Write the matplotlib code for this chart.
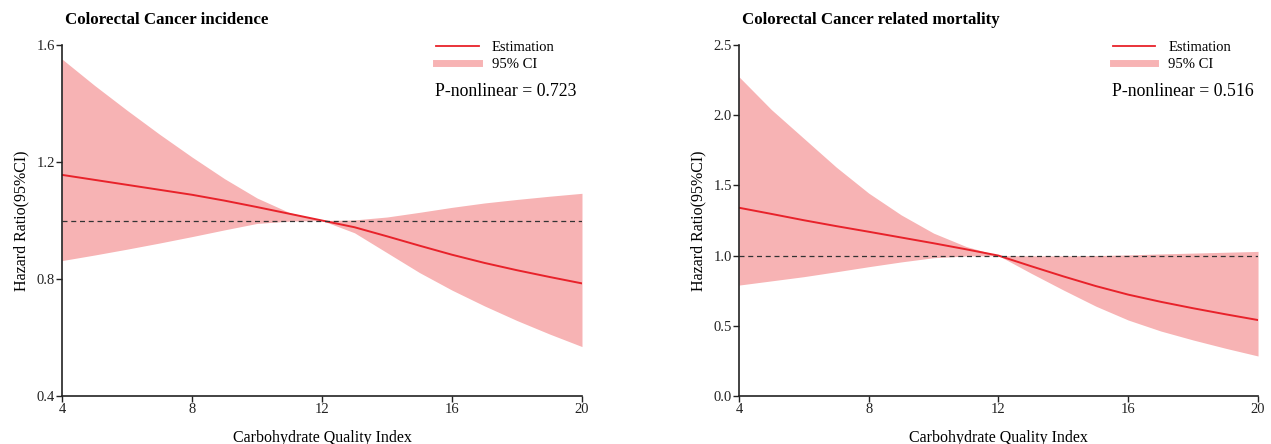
import matplotlib
matplotlib.use("Agg")
import matplotlib.pyplot as plt
from matplotlib.lines import Line2D

plt.rcParams['font.family'] = ['Liberation Serif', 'DejaVu Serif']

# Carbohydrate Quality Index
cqi = [4, 5, 6, 7, 8, 9, 10, 11, 12, 13, 14, 15, 16, 17, 18, 19, 20]

# incidence
inc_est = [1.156, 1.139, 1.122, 1.105, 1.088, 1.068, 1.046, 1.023, 1.000,
           0.977, 0.946, 0.914, 0.883, 0.855, 0.830, 0.807, 0.785]
inc_up = [1.552, 1.462, 1.377, 1.295, 1.217, 1.143, 1.077, 1.027, 1.000,
          1.002, 1.012, 1.028, 1.045, 1.060, 1.072, 1.083, 1.093]
inc_lo = [0.863, 0.882, 0.902, 0.923, 0.945, 0.968, 0.990, 0.998, 1.000,
          0.958, 0.890, 0.822, 0.762, 0.708, 0.658, 0.612, 0.569]

# mortality
mor_est = [1.341, 1.297, 1.252, 1.210, 1.170, 1.129, 1.088, 1.045, 1.000,
           0.925, 0.852, 0.783, 0.722, 0.671, 0.625, 0.582, 0.541]
mor_up = [2.274, 2.040, 1.835, 1.630, 1.445, 1.290, 1.160, 1.065, 1.000,
          0.998, 0.998, 1.000, 1.005, 1.012, 1.018, 1.024, 1.030]
mor_lo = [0.790, 0.820, 0.850, 0.885, 0.921, 0.955, 0.985, 0.997, 1.000,
          0.875, 0.755, 0.640, 0.541, 0.463, 0.399, 0.340, 0.285]

titles = ['Colorectal Cancer incidence', 'Colorectal Cancer related mortality']
p_text = ['P-nonlinear = 0.723', 'P-nonlinear = 0.516']
yticks = [[0.4, 0.8, 1.2, 1.6], [0.0, 0.5, 1.0, 1.5, 2.0, 2.5]]
ylims = [(0.4, 1.6), (0.0, 2.5)]
xticks = [4, 8, 12, 16, 20]

line_col = '#e8222a'
fill_col = '#f7b3b4'

fig = plt.figure(figsize=(12.71, 4.44), dpi=100)
ax1 = fig.add_axes([0.0488, 0.1081, 0.4091, 0.7905])
ax2 = fig.add_axes([0.5814, 0.1081, 0.4084, 0.7905])

data = [(inc_est, inc_up, inc_lo), (mor_est, mor_up, mor_lo)]
for i, ax in enumerate([ax1, ax2]):
    est, up, lo = data[i]
    ax.fill_between(cqi, lo, up, color=fill_col, lw=0)
    ax.plot(cqi, est, color=line_col, lw=1.4)
    ax.axhline(1.0, color='#333333', lw=0.9, ls=(0, (4, 3)))
    ax.set_xlim(4, 20)
    ax.set_ylim(*ylims[i])
    ax.set_xticks(xticks)
    ax.set_yticks(yticks[i])
    ax.set_yticklabels(['%.1f' % v for v in yticks[i]])
    for s in ['top', 'right']:
        ax.spines[s].set_visible(False)
    for s in ['left', 'bottom']:
        ax.spines[s].set_linewidth(1.2)
        ax.spines[s].set_color('#222222')
    ax.tick_params(length=4, width=1.0, labelsize=10.5, colors='#222222', pad=1)
    ax.set_xlabel('Carbohydrate Quality Index', fontsize=11.5, labelpad=10)
    ax.set_ylabel('Hazard Ratio(95%CI)', fontsize=11.5, labelpad=5)
    ax.text(0.005, 1.071, titles[i], transform=ax.transAxes, fontsize=12.2,
            fontweight='bold', va='center', ha='left')
    handles = [Line2D([], [], color=line_col, lw=1.3),
               Line2D([], [], color=fill_col, lw=5)]
    ax.legend(handles, ['Estimation', '95% CI'], loc='upper left',
              bbox_to_anchor=(0.72, 1.012), frameon=False, fontsize=10.5,
              handlelength=2.9, handletextpad=0.9, labelspacing=0.25,
              borderpad=0, borderaxespad=0)
    ax.text(0.718, 0.868, p_text[i], transform=ax.transAxes, fontsize=12.8,
            va='center', ha='left')

fig.savefig('out.png', dpi=100)
